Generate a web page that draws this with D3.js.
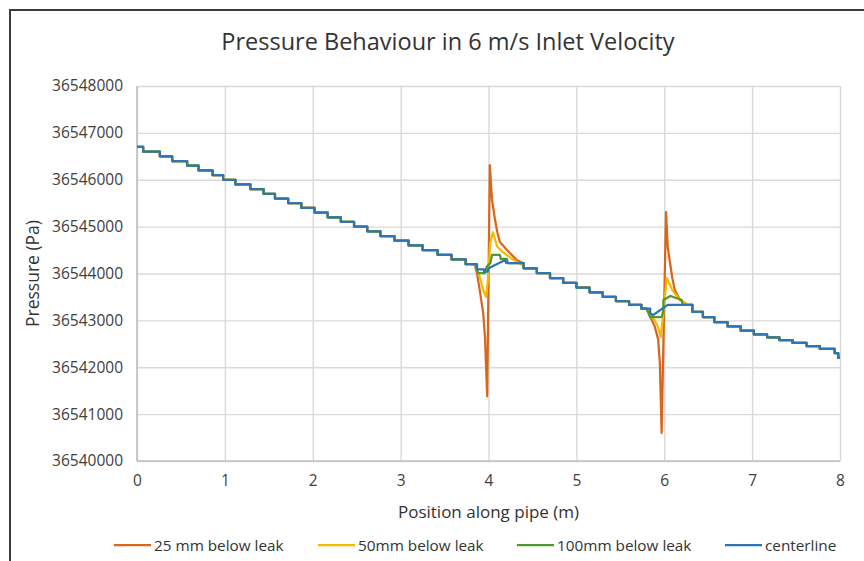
<!DOCTYPE html>
<html>
  <head>
    <meta charset="utf-8">
    <title>Pressure Behaviour</title>
    <script src="https://cdnjs.cloudflare.com/ajax/libs/d3/7.8.5/d3.min.js"></script>
    <style>
      body {
        margin: 0;
        padding: 0;
        background: #fff;
        font-family: 'Open Sans', sans-serif;
      }
    </style>
  </head>
  <body>
    <div id="chart"></div>
    <script>
      // Axis ticks
      const xTicks = [0, 1, 2, 3, 4, 5, 6, 7, 8];
      const yTicks = [36540000, 36541000, 36542000, 36543000, 36544000, 36545000, 36546000, 36547000, 36548000];

      const seriesNames = ["25 mm below leak", "50mm below leak", "100mm below leak", "centerline"];

      // Shared staircase (all four series sit on it away from the leaks)
      const stepX = [0, 0.07, 0.26, 0.40, 0.57, 0.70, 0.86, 0.98, 1.12, 1.29, 1.44, 1.57, 1.72, 1.87,
                     2.02, 2.17, 2.32, 2.47, 2.62, 2.77, 2.93, 3.09, 3.25, 3.42, 3.58, 3.74,
                     4.40, 4.55, 4.70, 4.85, 5.00, 5.15, 5.30, 5.45, 5.60, 5.74,
                     6.32, 6.44, 6.57, 6.72, 6.87, 7.02, 7.17, 7.31, 7.46, 7.62, 7.77, 7.94, 7.98];
      const stepP = [36546700, 36546600, 36546500, 36546400, 36546300, 36546200, 36546100, 36546000, 36545900,
                     36545800, 36545700, 36545600, 36545500, 36545400, 36545300, 36545200, 36545100, 36545000,
                     36544900, 36544800, 36544700, 36544600, 36544500, 36544400, 36544300, 36544200,
                     36544110, 36544010, 36543900, 36543800, 36543700, 36543600, 36543500, 36543410, 36543330, 36543250,
                     36543180, 36543072, 36542965, 36542870, 36542780, 36542700, 36542640, 36542580, 36542520,
                     36542450, 36542390, 36542300, 36542200];
      const leakWindows = [[3.84, 4.40], [5.80, 6.32]];

      // Readings around the leak at 4 m
      const s25Leak4 = [[3.84, 36544200], [3.87, 36544000], [3.90, 36543650], [3.94, 36543150], [3.96, 36542650],
                        [3.985, 36541380], [4.015, 36546310], [4.04, 36545570], [4.07, 36545200], [4.10, 36544880],
                        [4.13, 36544670], [4.21, 36544500], [4.32, 36544290], [4.40, 36544220]];
      const s50Leak4 = [[3.84, 36544200], [3.90, 36543930], [3.94, 36543650], [3.97, 36543500], [3.99, 36543800],
                        [4.02, 36544650], [4.05, 36544880], [4.10, 36544570], [4.16, 36544460], [4.24, 36544350],
                        [4.34, 36544224], [4.40, 36544170]];
      const s100Leak4 = [[3.84, 36544200], [3.85, 36544200], [3.88, 36544010], [3.96, 36544010], [3.98, 36544150],
                         [4.02, 36544220], [4.04, 36544395], [4.13, 36544395], [4.14, 36544310], [4.21, 36544310],
                         [4.22, 36544220], [4.40, 36544220]];
      const sCenterLeak4 = [[3.84, 36544200], [3.87, 36544200], [3.87, 36544090], [3.95, 36544090], [3.95, 36544040],
                            [3.99, 36544040], [4.00, 36544110], [4.19, 36544290], [4.20, 36544224], [4.40, 36544220]];

      // Readings around the leak at 6 m
      const s25Leak6 = [[5.80, 36543250], [5.82, 36543160], [5.89, 36542880], [5.93, 36542600], [5.95, 36542100],
                        [5.97, 36540600], [6.02, 36545310], [6.04, 36544560], [6.09, 36543920], [6.12, 36543650],
                        [6.18, 36543430], [6.27, 36543330], [6.32, 36543330]];
      const s50Leak6 = [[5.80, 36543250], [5.82, 36543160], [5.89, 36543010], [5.93, 36542860], [5.96, 36542645],
                        [6.03, 36543900], [6.09, 36543650], [6.15, 36543500], [6.18, 36543435], [6.27, 36543330],
                        [6.32, 36543330]];
      const s100Leak6 = [[5.80, 36543250], [5.82, 36543160], [5.84, 36543072], [5.97, 36543072], [5.99, 36543200],
                         [5.99, 36543435], [6.07, 36543520], [6.20, 36543435], [6.21, 36543330], [6.32, 36543330]];
      const sCenterLeak6 = [[5.80, 36543250], [5.84, 36543250], [5.84, 36543157], [5.87, 36543110], [6.04, 36543330],
                            [6.32, 36543330]];

      const leakData = [[s25Leak4, s25Leak6], [s50Leak4, s50Leak6], [s100Leak4, s100Leak6], [sCenterLeak4, sCenterLeak6]];
      const colors = ["#d8671d", "#f7b900", "#4e9a2c", "#2e75b5"];

      const width = 864, height = 561;
      const margin = {left: 137, right: 24, top: 86, bottom: 100};

      const svg = d3.select('#chart')
                    .append('svg')
                    .attr('width', width)
                    .attr('height', height);

      svg.append('rect').attr('width', width).attr('height', height).attr('fill', '#fff');

      // outer frame (cut off at right and bottom in the original)
      svg.append('path')
         .attr('d', `M10,${height + 5} L10,10 L${width + 5},10`)
         .attr('fill', 'none')
         .attr('stroke', '#3c3c3c')
         .attr('stroke-width', 2);

      const x = d3.scaleLinear().domain([0, 8]).range([margin.left, width - margin.right]);
      const y = d3.scaleLinear().domain([36540000, 36548000]).range([height - margin.bottom, margin.top]);

      // gridlines + y labels
      const yAxis = svg.append('g')
         .attr('transform', `translate(${margin.left},0)`)
         .call(d3.axisLeft(y).tickValues(yTicks).tickFormat(d3.format('d'))
                 .tickSize(-(x(8) - x(0))).tickPadding(14));
      yAxis.select('.domain').remove();
      yAxis.selectAll('line').attr('stroke', '#d9d9d9').attr('stroke-width', 1.4);
      yAxis.selectAll('text').attr('fill', '#404040').style('font-size', '15.5px')
           .style('font-family', "'Open Sans', sans-serif");

      const xAxis = svg.append('g')
         .attr('transform', `translate(0,${y(36540000)})`)
         .call(d3.axisBottom(x).tickValues(xTicks).tickFormat(d3.format('d'))
                 .tickSize(-(y(36540000) - y(36548000))).tickPadding(14));
      xAxis.select('.domain').remove();
      xAxis.selectAll('line').attr('stroke', '#d9d9d9').attr('stroke-width', 1.4);
      xAxis.selectAll('text').attr('fill', '#404040').style('font-size', '15.5px')
           .style('font-family', "'Open Sans', sans-serif");

      // axis lines (slightly darker)
      svg.append('line').attr('x1', x(0)).attr('x2', x(0)).attr('y1', y(36548000)).attr('y2', y(36540000))
         .attr('stroke', '#bfbfbf').attr('stroke-width', 1.6);
      svg.append('line').attr('x1', x(0)).attr('x2', x(8)).attr('y1', y(36540000)).attr('y2', y(36540000))
         .attr('stroke', '#bfbfbf').attr('stroke-width', 1.6);

      // build each series: staircase pieces joined by the leak readings
      function buildSeries(leaks) {
        const bounds = [0, leakWindows[0][0], leakWindows[0][1], leakWindows[1][0], leakWindows[1][1], 8];
        const pts = [];
        for (let k = 0; k < 3; k++) {
          const a = bounds[2 * k], b = bounds[2 * k + 1];
          const idx = stepX.map((v, i) => i).filter(i => stepX[i] >= a && stepX[i] < b);
          idx.forEach((i, j) => {
            const xn = j < idx.length - 1 ? stepX[idx[j + 1]] : b;
            pts.push([stepX[i], stepP[i]], [xn, stepP[i]]);
          });
          if (k < 2) pts.push(...leaks[k]);
        }
        return pts;
      }

      const line = d3.line().x(d => x(d[0])).y(d => y(d[1]));

      seriesNames.forEach((name, i) => {
        svg.append('path')
           .datum(buildSeries(leakData[i]))
           .attr('fill', 'none')
           .attr('stroke', colors[i])
           .attr('stroke-width', 2.25)
           .attr('stroke-linejoin', 'round')
           .attr('d', line);
      });

      // title
      svg.append('text')
         .attr('x', 448).attr('y', 50)
         .attr('text-anchor', 'middle')
         .attr('fill', '#333')
         .style('font-size', '23.5px')
         .text('Pressure Behaviour in 6 m/s Inlet Velocity');

      svg.append('text')
         .attr('x', (x(0) + x(8)) / 2).attr('y', 518)
         .attr('text-anchor', 'middle')
         .attr('fill', '#333')
         .style('font-size', '17px')
         .text('Position along pipe (m)');

      svg.append('text')
         .attr('transform', `translate(39,${(y(36540000) + y(36548000)) / 2}) rotate(-90)`)
         .attr('text-anchor', 'middle')
         .attr('fill', '#333')
         .style('font-size', '17.5px')
         .text('Pressure (Pa)');

      // legend
      const legendX = [114, 318, 517, 725];
      const legend = svg.append('g');
      seriesNames.forEach((name, i) => {
        legend.append('line')
              .attr('x1', legendX[i]).attr('x2', legendX[i] + 37)
              .attr('y1', 545).attr('y2', 545)
              .attr('stroke', colors[i]).attr('stroke-width', 2.25);
        legend.append('text')
              .attr('x', legendX[i] + 40).attr('y', 550.5)
              .attr('fill', '#333')
              .style('font-size', '15.3px')
              .text(name);
      });
    </script>
  </body>
</html>
